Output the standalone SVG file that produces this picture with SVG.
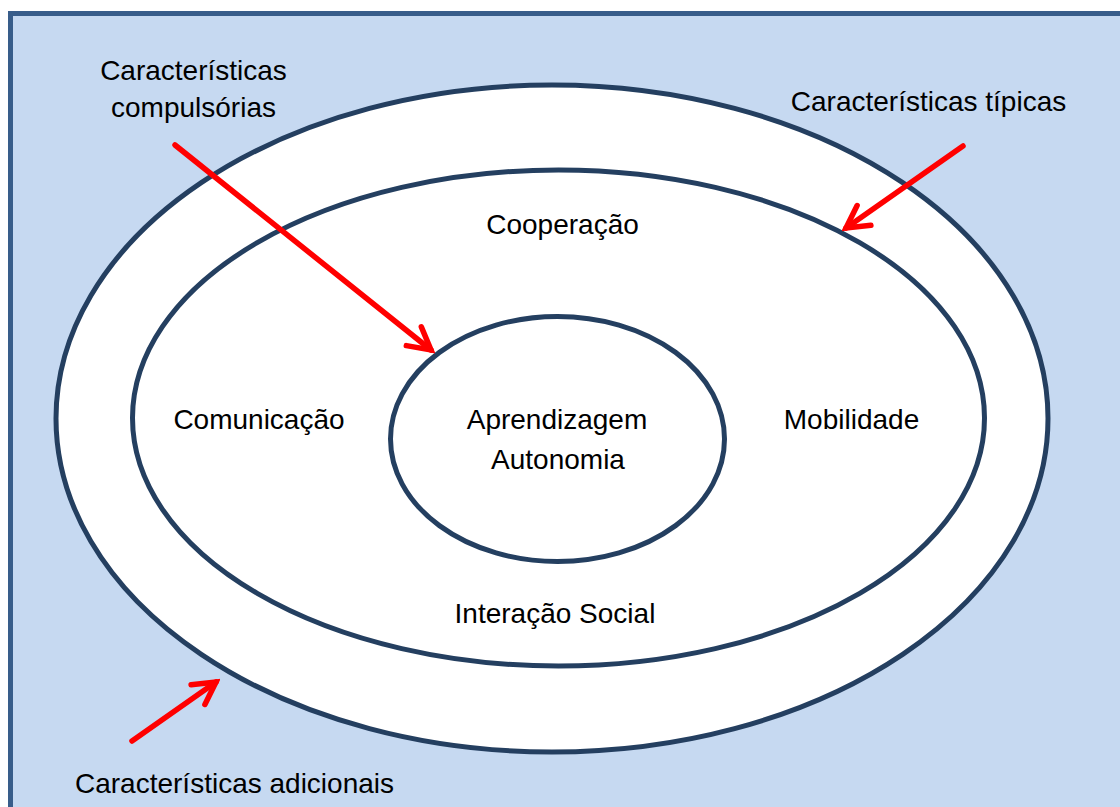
<svg xmlns="http://www.w3.org/2000/svg" width="1120" height="807" viewBox="0 0 1120 807">
<defs>
<style>
.ring{fill:#ffffff;stroke:#243f60;stroke-width:5}
.lbl{font-family:"Liberation Sans",Arial,sans-serif;font-size:28px;fill:#000;text-anchor:middle}
.arr{stroke:#ff0000;stroke-width:5.5;fill:none;stroke-linecap:round}
</style>
<marker id="head" markerUnits="userSpaceOnUse" viewBox="0 0 32 32" refX="27" refY="16" markerWidth="32" markerHeight="32" orient="auto">
<path d="M5,4 L27,16 L5,28" fill="none" stroke="#ff0000" stroke-width="5.5" stroke-linecap="round" stroke-linejoin="miter"/>
</marker>
</defs>
<rect x="0" y="0" width="1120" height="807" fill="#ffffff"/>
<rect id="background" x="10.5" y="13.5" width="1120" height="810" fill="#c6d9f1" stroke="#385d8a" stroke-width="5"/>
<g id="outer"><ellipse class="ring" cx="552" cy="418.5" rx="496" ry="333.5"/></g>
<g id="middle"><ellipse class="ring" cx="558.5" cy="418" rx="426" ry="248"/></g>
<g id="inner"><ellipse class="ring" cx="557.5" cy="439" rx="167" ry="122.5"/></g>
<g id="connectors">
<line class="arr" x1="175" y1="145" x2="431" y2="350" marker-end="url(#head)"/>
<line class="arr" x1="963" y1="146" x2="846" y2="228" marker-end="url(#head)"/>
<line class="arr" x1="132" y1="741" x2="216" y2="682" marker-end="url(#head)"/>
</g>
<g id="label-compulsorias"><text class="lbl" x="193.5" y="80">Características</text><text class="lbl" x="193.5" y="117">compulsórias</text></g>
<g id="label-tipicas"><text class="lbl" x="928.5" y="111">Características típicas</text></g>
<g id="label-adicionais"><text class="lbl" x="234.5" y="793">Características adicionais</text></g>
<g id="label-cooperacao"><text class="lbl" x="562.5" y="234">Cooperação</text></g>
<g id="label-comunicacao"><text class="lbl" x="259" y="429">Comunicação</text></g>
<g id="label-mobilidade"><text class="lbl" x="851.5" y="429">Mobilidade</text></g>
<g id="label-centro"><text class="lbl" x="557" y="429">Aprendizagem</text><text class="lbl" x="558" y="469">Autonomia</text></g>
<g id="label-interacao"><text class="lbl" x="555" y="623">Interação Social</text></g>
</svg>
